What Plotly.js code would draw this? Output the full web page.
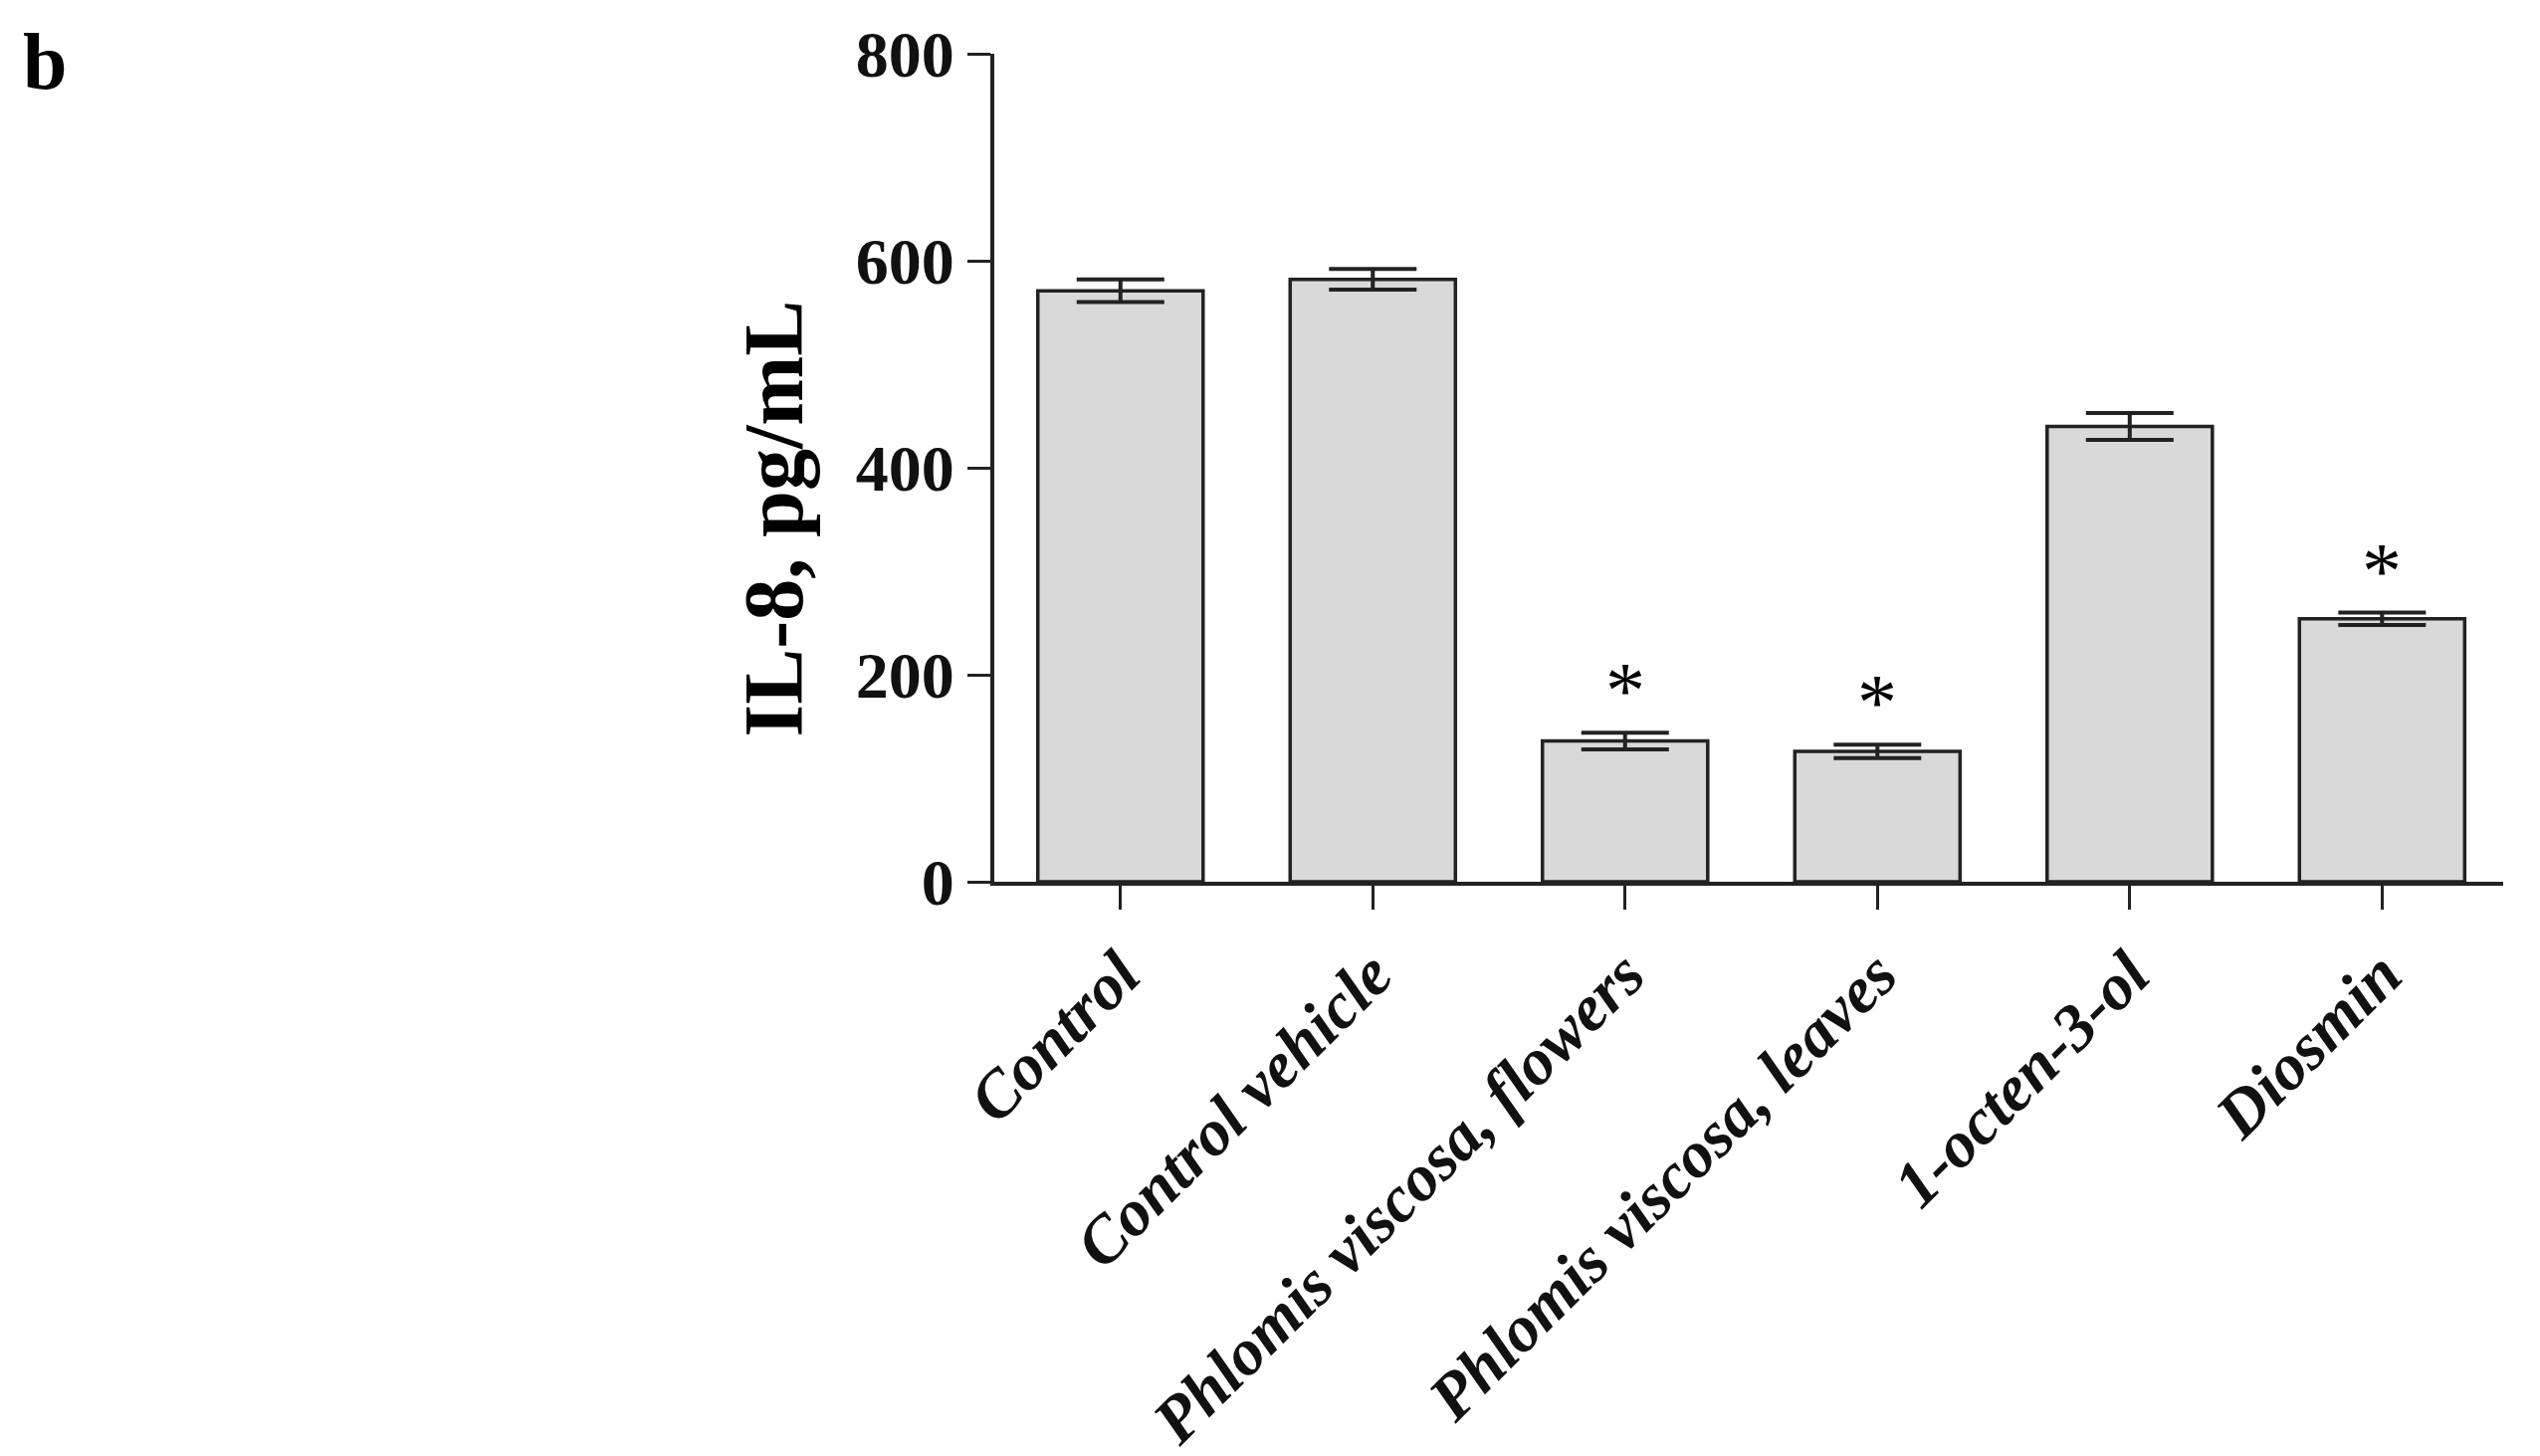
<!DOCTYPE html>
<html>
<head>
<meta charset="utf-8">
<script src="https://cdn.plot.ly/plotly-3.0.1.min.js"></script>
<style>
  html, body { margin: 0; padding: 0; background: #fff; }
  #chart { width: 2552px; height: 1463px; }
</style>
</head>
<body>
<div id="chart"></div>
<script>
// groups on the x axis
const groups = ['Control', 'Control vehicle', 'Phlomis viscosa, flowers',
                'Phlomis viscosa, leaves', '1-octen-3-ol', 'Diosmin'];
// IL-8 mean values, pg/mL
const il8 = [571, 582, 136, 126, 440, 254];
// error bar (+/-) values
const il8Err = [11, 10, 8, 6.5, 13, 6];
// significance marks
const signif = ['', '', '*', '*', '', '*'];
// y axis ticks
const yTicks = [0, 200, 400, 600, 800];

const serif = '"Liberation Serif", "Times New Roman", Times, serif';
const ink = '#222222';

let trace = {
    type: 'bar',
    x: groups,
    y: il8,
    marker: {color: '#d9d9d9', line: {color: ink, width: 3.5}},
    error_y: {type: 'data', array: il8Err, visible: true,
              color: ink, thickness: 4, width: 44},
    hoverinfo: 'skip'
};

let notes = [];
// asterisks above the significant bars
for (let i = 0; i < groups.length; i++) {
    if (!signif[i]) continue;
    notes.push({
        x: groups[i], y: il8[i] + il8Err[i], xref: 'x', yref: 'y',
        text: signif[i], showarrow: false,
        yanchor: 'middle', yshift: 42,
        font: {family: serif, size: 80, color: '#000'}
    });
}
// y axis title, placed as in the original figure
notes.push({
    x: -0.146, y: 0.439, xref: 'paper', yref: 'paper',
    xanchor: 'center', yanchor: 'middle', showarrow: false, textangle: -90,
    text: 'IL-8, pg/mL', font: {family: serif, size: 84, weight: 'bold', color: '#000'}
});
// panel letter
notes.push({
    x: -0.629, y: 0.99, xref: 'paper', yref: 'paper',
    xanchor: 'center', yanchor: 'middle', showarrow: false,
    text: 'b', font: {family: serif, size: 80, weight: 'bold', color: '#000'}
});

let layout = {
    width: 2552, height: 1463,
    margin: {l: 999, r: 37, t: 54, b: 577},
    paper_bgcolor: '#fff', plot_bgcolor: '#fff',
    showlegend: false,
    bargap: 0.345,
    xaxis: {
        range: [-0.5, 5.48],
        showline: true, linecolor: ink, linewidth: 4,
        ticks: 'outside', ticklen: 24, tickwidth: 3, tickcolor: ink,
        tickangle: -45,
        tickfont: {family: serif, size: 66, weight: 'bold', style: 'italic', color: '#111'},
        showgrid: false, zeroline: false, fixedrange: true
    },
    yaxis: {
        range: [0, 800],
        tickvals: yTicks,
        showline: true, linecolor: ink, linewidth: 4,
        ticks: 'outside', ticklen: 23, tickwidth: 3, tickcolor: ink,
        tickfont: {family: serif, size: 66, weight: 'bold', color: '#111'},
        showgrid: false, zeroline: false, fixedrange: true
    },
    annotations: notes
};

Plotly.newPlot('chart', [trace], layout, {displayModeBar: false, staticPlot: true});
</script>
</body>
</html>
